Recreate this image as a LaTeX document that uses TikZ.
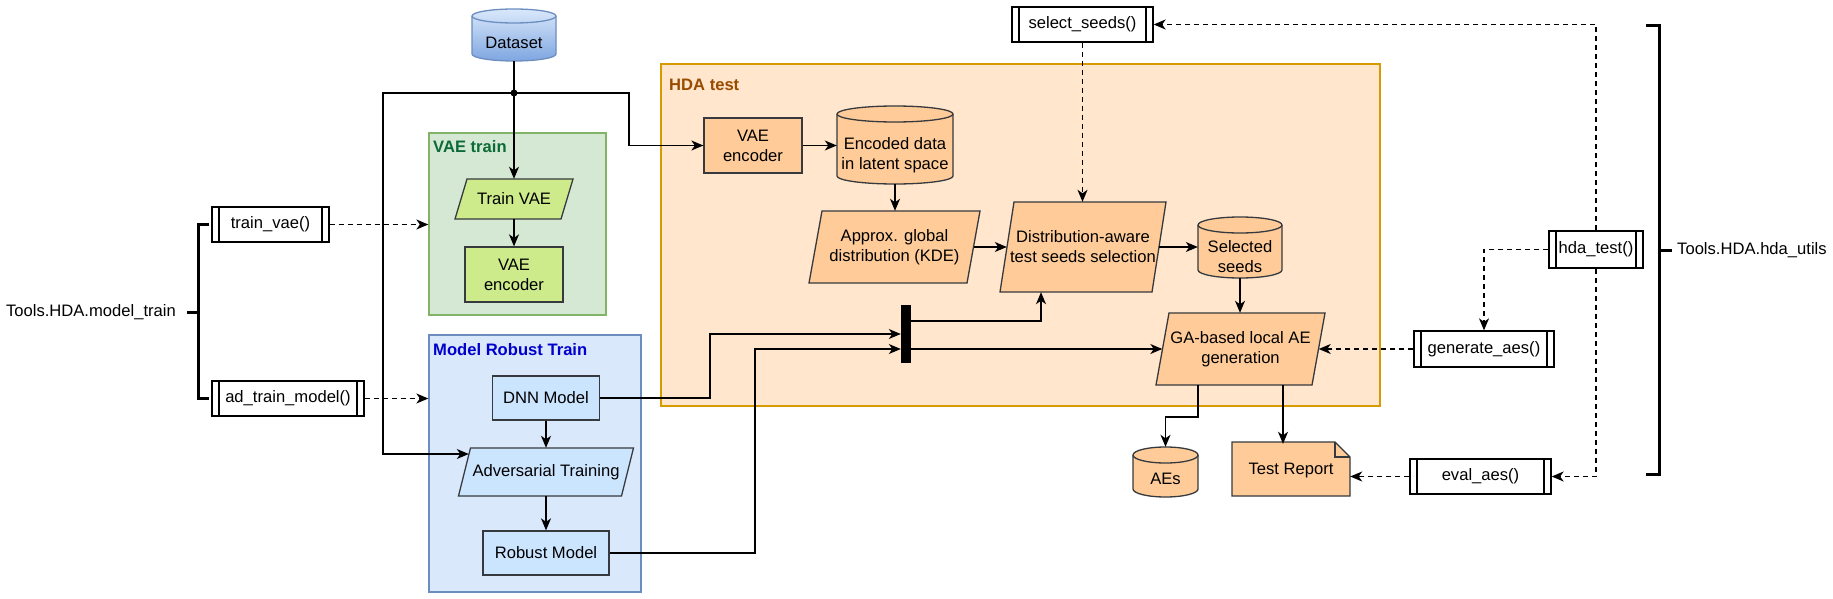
\documentclass[tikz,border=0pt]{standalone}
\usepackage{fontspec}
\setmainfont{Liberation Sans}
\usetikzlibrary{arrows.meta,calc}
\definecolor{vaefill}{HTML}{D5E8D4}
\definecolor{vaeborder}{HTML}{82B366}
\definecolor{vaelabel}{HTML}{0B6B36}
\definecolor{greenfill}{HTML}{CDEB8B}
\definecolor{nodeborder}{HTML}{36393D}
\definecolor{mrtfill}{HTML}{DAE8FC}
\definecolor{mrtborder}{HTML}{6C8EBF}
\definecolor{mrtlabel}{HTML}{0000CC}
\definecolor{bluefill}{HTML}{CCE5FF}
\definecolor{hdafill}{HTML}{FFE6CC}
\definecolor{hdaborder}{HTML}{D79B00}
\definecolor{hdalabel}{HTML}{994C00}
\definecolor{orangefill}{HTML}{FFCC99}
\definecolor{dstop}{HTML}{DAE8FC}
\definecolor{dsbot}{HTML}{7EA6E0}

\newcommand\paradraw[6]{\path[#1] (#2,#5) -- (#2+#6,#3) -- (#4,#3) -- (#4-#6,#5) -- cycle;}
\newcommand\cyldraw[7]{%
 \path[#1] (#2,#3+#6) -- (#2,#5-#6) arc[start angle=180,end angle=0,x radius={(#4-#2)/2},y radius=#6] -- (#4,#3+#6) arc[start angle=0,end angle=-180,x radius={(#4-#2)/2},y radius=#6] -- cycle;
 \draw[draw=#7,line width=1.3pt] (#2,#3+#6) arc[start angle=180,end angle=0,x radius={(#4-#2)/2},y radius=#6];}

\begin{document}
\begin{tikzpicture}[x=1pt,y=-1pt,
 font=\fontsize{16.6}{20}\selectfont,
 >={Stealth[length=12pt,width=10pt,inset=3.5pt]},
 conn/.style={draw=black,line width=1.3pt,->},
 dconn/.style={conn,dash pattern=on 5pt off 4pt},
 bracket/.style={draw=black,line width=3pt},
 box/.style={rectangle,draw=nodeborder,line width=1.3pt,inner sep=2pt,align=center},
 shp/.style={rectangle,inner sep=0pt,align=center},
 func/.style={rectangle,draw=black,line width=1.3pt,fill=white,minimum height=35pt,inner sep=0pt,
   path picture={\draw[line width=1.3pt] ([xshift=7pt]path picture bounding box.north west) -- ([xshift=7pt]path picture bounding box.south west) ([xshift=-7pt]path picture bounding box.north east) -- ([xshift=-7pt]path picture bounding box.south east);}},
 container/.style={rectangle,line width=1.3pt,inner sep=0pt},
 grouplabel/.style={anchor=west,inner sep=0pt,font=\fontsize{16.6}{20}\selectfont\bfseries},
 plain/.style={inner sep=0pt,align=center},
 pshape/.style={draw=nodeborder,line width=1.3pt}
]
\useasboundingbox[fill=white] (0,0) rectangle (1833,599);

% containers
\node[container,draw=vaeborder,fill=vaefill,minimum width=177pt,minimum height=182pt] (vaetrain) at (517.5,224) {};
\node[container,draw=mrtborder,fill=mrtfill,minimum width=212pt,minimum height=257pt] (mrt) at (535,463.5) {};
\node[container,draw=hdaborder,fill=hdafill,minimum width=719pt,minimum height=342pt] (hdatest) at (1020.5,235) {};
\node[grouplabel,text=vaelabel] (vaetrainlbl) at (433,147) {VAE train};
\node[grouplabel,text=mrtlabel] (mrtlbl) at (433,350) {Model Robust Train};
\node[grouplabel,text=hdalabel] (hdalbl) at (669,85) {HDA test};

% dataset
\cyldraw{top color=dstop,bottom color=dsbot,draw=mrtborder,line width=1.3pt}{472}{9}{556}{61}{7}{mrtborder}
\node[shp,minimum width=84pt,minimum height=52pt] (dataset) at (514,35) {};
\node[plain] (datasettxt) at (514,43) {Dataset};

% VAE train
\paradraw{pshape,fill=greenfill}{455}{179}{573}{219}{12}
\node[shp,minimum width=118pt,minimum height=40pt] (trainvae) at (514,199) {Train VAE};
\node[box,fill=greenfill,minimum width=98pt,minimum height=55pt] (gvae) at (514,274.5) {VAE\\encoder};

% Model robust train
\node[box,fill=bluefill,minimum width=107pt,minimum height=44pt] (dnn) at (546,398) {DNN Model};
\paradraw{pshape,fill=bluefill}{458.5}{448}{633.5}{496}{12}
\node[shp,minimum width=175pt,minimum height=48pt] (adv) at (546,472) {Adversarial Training};
\node[box,fill=bluefill,minimum width=126pt,minimum height=44pt] (robust) at (546,553) {Robust Model};

% HDA test
\node[box,fill=orangefill,minimum width=98pt,minimum height=55pt] (hvae) at (753,145.5) {VAE\\encoder};
\cyldraw{fill=orangefill,draw=nodeborder,line width=1.3pt}{837}{106}{953}{184}{8}{nodeborder}
\node[shp,minimum width=116pt,minimum height=78pt] (enc) at (895,145) {};
\node[plain] (enctxt) at (895,155) {Encoded data\\in latent space};
\paradraw{pshape,fill=orangefill}{809}{211}{980}{283}{13}
\node[shp,minimum width=171pt,minimum height=72pt] (approx) at (894.5,247) {Approx. global\\distribution (KDE)};
\paradraw{pshape,fill=orangefill}{1000}{202}{1166}{292}{14}
\node[shp,minimum width=166pt,minimum height=90pt] (dist) at (1083,247) {Distribution-aware\\test seeds selection};
\cyldraw{fill=orangefill,draw=nodeborder,line width=1.3pt}{1198}{217}{1282}{278}{8}{nodeborder}
\node[shp,minimum width=84pt,minimum height=61pt] (sel) at (1240,247.5) {};
\node[plain] (seltxt) at (1240,257) {Selected\\seeds};
\paradraw{pshape,fill=orangefill}{1156}{313}{1325}{385}{13}
\node[shp,minimum width=169pt,minimum height=72pt] (ga) at (1240.5,349) {GA-based local AE\\generation};
\node[fill=black,minimum width=10pt,minimum height=58pt,inner sep=0pt] (bar) at (906,334) {};

% outputs
\cyldraw{fill=orangefill,draw=nodeborder,line width=1.3pt}{1133}{447}{1198}{497}{8}{nodeborder}
\node[shp,minimum width=65pt,minimum height=50pt] (aes) at (1165.5,472) {};
\node[plain] (aestxt) at (1165.5,479) {AEs};
\path[pshape,fill=orangefill] (1232,442) -- (1335,442) -- (1350,457) -- (1350,496) -- (1232,496) -- cycle;
\draw[pshape] (1335,442) -- (1335,457) -- (1350,457);
\node[shp,minimum width=118pt,minimum height=54pt] (report) at (1291,471) {Test Report};

% function boxes
\node[func,minimum width=117pt] (ftrainvae) at (270.5,224.5) {train\_vae()};
\node[func,minimum width=152pt] (fadtrain) at (288,398.5) {ad\_train\_model()};
\node[func,minimum width=141pt] (fselect) at (1082.5,24.5) {select\_seeds()};
\node[func,minimum width=94pt,minimum height=37pt] (fhda) at (1596,249.5) {hda\_test()};
\node[func,minimum width=140pt,minimum height=36pt] (fgen) at (1484,349) {generate\_aes()};
\node[func,minimum width=141pt] (feval) at (1480.5,476.5) {eval\_aes()};

% brackets
\draw[bracket] (209,224.5) -- (198,224.5) -- (198,398.5) -- (209,398.5);
\draw[bracket] (187,312) -- (198,312);
\node[anchor=east,inner sep=0pt] (lbltrain) at (176,312) {Tools.HDA.model\_train};
\draw[bracket] (1646,26) -- (1659,26) -- (1659,474) -- (1646,474);
\draw[bracket] (1659,250) -- (1672,250);
\node[anchor=west,inner sep=0pt] (lblutils) at (1677,250) {Tools.HDA.hda\_utils};

% connectors
\coordinate (junc) at (514,93);
\coordinate (lcorner) at (383,93);
\coordinate (rcorner) at (629,93);
\draw[line width=2.3pt] (dataset.south) -- (junc);
\fill (junc) circle[radius=3.5pt];
\draw[conn] (junc) -- (trainvae.north);
\draw[conn] (junc) -- (lcorner) |- ($(adv.west)+(10.5,-18)$);
\draw[conn] (junc) -- (rcorner) |- (hvae.west);
\draw[conn] (trainvae.south) -- (gvae.north);
\draw[dconn] (ftrainvae.east) -- (vaetrain.west |- ftrainvae.east);
\draw[dconn] (fadtrain.east) -- (mrt.west |- fadtrain.east);
\draw[conn] (dnn.south) -- (adv.north);
\draw[conn] (adv.south) -- (robust.north);
\coordinate (c1) at (710,334);
\coordinate (c2) at (755,349);
\coordinate (c3) at (1041,321);
\draw[conn] (dnn.east) -| (c1) -- (bar.west);
\draw[conn] (robust.east) -| (c2) -- (c2 -| bar.west);
\draw[conn] (c3 -| bar.east) -- (c3) -- (c3 |- dist.south);
\draw[conn] (c2 -| bar.east) -- ($(ga.west)+(6.5,0)$);
\draw[conn] (hvae.east) -- (enc.west |- hvae.east);
\draw[conn] (enc.south) -- (enc.south |- approx.north);
\draw[conn] ($(approx.east)+(-6.5,0)$) -- ($(dist.west)+(7,0)$);
\draw[conn] ($(dist.east)+(-7,0)$) -- (sel.west |- dist.east);
\draw[conn] (sel.south) -- (sel.south |- ga.north);
\coordinate (c4) at (1198,417);
\coordinate (c5) at (1283,385);
\draw[conn] (ga.south -| c4) -- (c4) -| (aes.north);
\draw[conn] (c5) -- (c5 |- report.north);
\draw[dconn] (fgen.west) -- ($(ga.east)+(-6.5,0)$);
\draw[dconn] (feval.west) -- (report.east |- feval.west);
\draw[dconn] (fhda.west) -| (fgen.north);
\draw[dconn] (fhda.south) |- (feval.east);
\draw[dconn] (fhda.north) |- (fselect.east);
\draw[dconn] (fselect.south) -- (fselect.south |- dist.north);
\end{tikzpicture}
\end{document}
